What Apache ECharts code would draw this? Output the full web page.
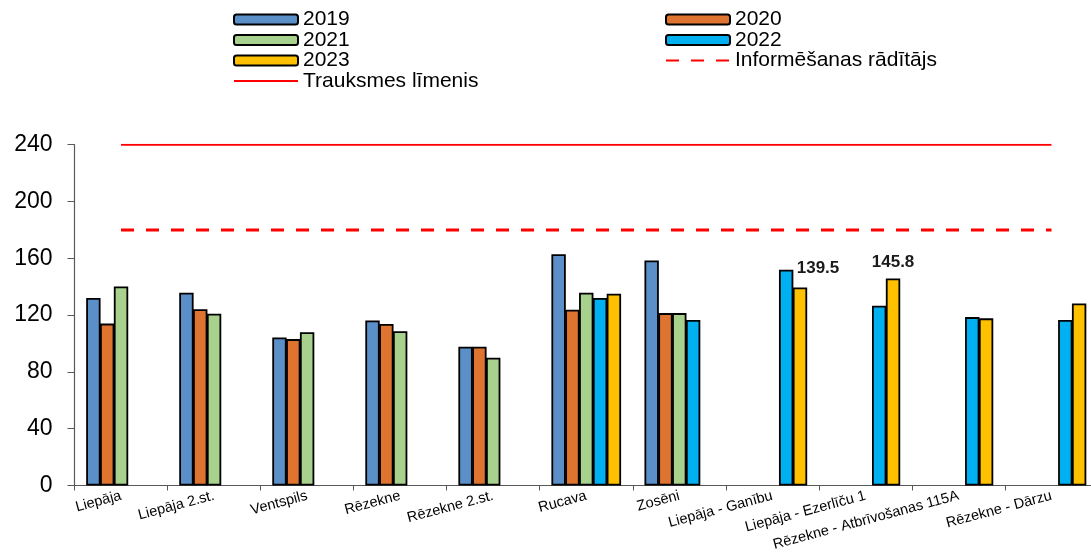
<!DOCTYPE html>
<html>
<head>
<meta charset="utf-8">
<script src="https://cdn.jsdelivr.net/npm/echarts@6/dist/echarts.min.js"></script>
<style>
html,body{margin:0;padding:0;background:#fff;}
#c{width:1091px;height:559px;}
</style>
</head>
<body>
<div id="c"></div>
<script>
const categories = ['Liepāja','Liepāja 2.st.','Ventspils','Rēzekne','Rēzekne 2.st.','Rucava','Zosēni','Liepāja - Ganību','Liepāja - Ezerlīču 1','Rēzekne - Atbrīvošanas 115A','Rēzekne - Dārzu'];
const v2019 = [132, 135.7, 104.3, 116.2, 97.7, 162.9, 158.4, null, null, null, null];
const v2020 = [114, 124.2, 103.1, 113.7, 97.7, 123.8, 121.4, null, null, null, null];
const v2021 = [140.2, 120.9, 108.0, 108.7, 90.0, 135.7, 121.4, null, null, null, null];
const v2022 = [null, null, null, null, null, 132.0, 116.5, 151.9, 126.6, 118.6, 116.5];
const v2023 = [null, null, null, null, null, 135.0, null, 139.5, 145.8, 117.7, 128.2];
const alarmLevel = 240;
const infoLevel = 180;
const yTicks = [0, 40, 80, 120, 160, 200, 240];
const labeled2023 = ['Liepāja - Ganību', 'Liepāja - Ezerlīču 1'];

const seriesNames = ['2019','2020','2021','2022','2023'];
const seriesValues = [v2019, v2020, v2021, v2022, v2023];
const colors = ['#5A8FC8','#DE7430','#A9D18E','#00B0F0','#FFC000'];

const chart = echarts.init(document.getElementById('c'), null, {renderer:'canvas'});

const barSeries = seriesNames.map((n, si) => ({
  name: n,
  type: 'bar',
  barWidth: 14.4,
  barGap: '-4%',
  itemStyle: {color: colors[si], borderColor: '#000', borderWidth: 1.8},
  data: seriesValues[si].map((v, i) => {
    if (v === null) return '-';
    if (si === 4 && labeled2023.includes(categories[i])) {
      const isGanibu = categories[i] === 'Liepāja - Ganību';
      return {
        value: v,
        label: {
          show: true, position: 'top', distance: isGanibu ? 5 : 8,
          offset: isGanibu ? [18, -6] : [0, 0],
          formatter: (p) => p.value.toFixed(1),
          fontFamily: 'Liberation Sans, Arial', fontWeight: 'bold', fontSize: 17, color: '#1a1a1a'
        }
      };
    }
    return v;
  })
}));

const legendText = {fontFamily: 'Liberation Sans, Arial', fontSize: 21, lineHeight: 20, color: '#000'};

const option = {
  animation: false,
  backgroundColor: '#fff',
  legend: [
    {
      data: ['2019','2021','2023','Trauksmes līmenis'],
      orient: 'vertical', left: 233, top: 9,
      itemWidth: 64, itemHeight: 10, itemGap: -0.5, padding: 0,
      textStyle: legendText
    },
    {
      data: ['2020','2022','Informēšanas rādītājs'],
      orient: 'vertical', left: 665, top: 9,
      itemWidth: 64, itemHeight: 10, itemGap: -0.5, padding: 0,
      textStyle: legendText
    }
  ],
  grid: {left: 74.5, top: 144.7, width: 1023.5, bottom: 73.5, containLabel: false, outerBoundsMode: 'none'},
  xAxis: {
    type: 'category',
    data: categories,
    boundaryGap: true,
    axisLine: {lineStyle: {color: '#595959', width: 1.2}},
    axisTick: {show: true, length: 5, lineStyle: {color: '#595959'}},
    axisLabel: {rotate: 15, margin: 10, interval: 0, fontFamily: 'Liberation Sans, Arial', fontSize: 14.5, color: '#000'}
  },
  yAxis: {
    type: 'value', min: 0, max: 240, interval: 40,
    axisLine: {show: true, lineStyle: {color: '#595959', width: 1.2}},
    axisTick: {show: true, inside: false, length: 7, lineStyle: {color: '#595959'}},
    splitLine: {show: false},
    axisLabel: {margin: 22, fontFamily: 'Liberation Sans, Arial', fontSize: 23, color: '#000',
      formatter: (v) => yTicks.includes(v) ? String(v) : ''}
  },
  series: barSeries.concat([
    {
      name: 'Informēšanas rādītājs', type: 'line', symbol: 'none', showSymbol: false,
      lineStyle: {color: '#FF0000', width: 3, type: [13, 12]},
      itemStyle: {color: '#FF0000', opacity: 0},
      data: categories.map(() => infoLevel), z: 5
    },
    {
      name: 'Trauksmes līmenis', type: 'line', symbol: 'none', showSymbol: false,
      lineStyle: {color: '#FF0000', width: 2},
      itemStyle: {color: '#FF0000', opacity: 0},
      data: categories.map(() => alarmLevel), z: 5
    }
  ])
};
chart.setOption(option);
</script>
</body>
</html>
